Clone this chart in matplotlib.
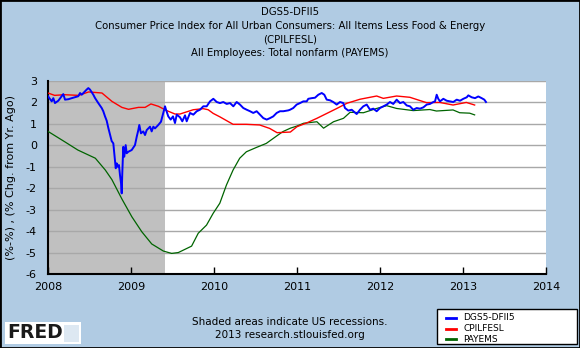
import numpy as np
import matplotlib
matplotlib.use("Agg")
import matplotlib.pyplot as plt
from matplotlib.patches import Rectangle

# DGS5-DFII5 (5y breakeven)
blue_t = [2008.0, 2008.045, 2008.064, 2008.084, 2008.124, 2008.165, 2008.184, 2008.205,
          2008.245, 2008.286, 2008.365, 2008.386, 2008.406, 2008.446, 2008.466, 2008.486,
          2008.506, 2008.546, 2008.566, 2008.606, 2008.647, 2008.666, 2008.687, 2008.707,
          2008.727, 2008.747, 2008.767, 2008.787, 2008.799, 2008.816, 2008.828, 2008.84,
          2008.855, 2008.867, 2008.88, 2008.888, 2008.895, 2008.907, 2008.919, 2008.936,
          2008.948, 2008.967, 2009.008, 2009.048, 2009.069, 2009.088, 2009.1, 2009.12,
          2009.148, 2009.169, 2009.189, 2009.229, 2009.249, 2009.269, 2009.289, 2009.329,
          2009.361, 2009.385, 2009.41, 2009.422, 2009.449, 2009.478, 2009.506, 2009.53,
          2009.551, 2009.59, 2009.618, 2009.651, 2009.671, 2009.711, 2009.751, 2009.792,
          2009.831, 2009.871, 2009.912, 2009.952, 2009.992, 2010.033, 2010.072, 2010.112,
          2010.153, 2010.193, 2010.233, 2010.273, 2010.313, 2010.353, 2010.394, 2010.434,
          2010.473, 2010.514, 2010.554, 2010.594, 2010.635, 2010.675, 2010.714, 2010.755,
          2010.795, 2010.835, 2010.895, 2010.916, 2010.955, 2010.996, 2011.036, 2011.076,
          2011.117, 2011.136, 2011.177, 2011.217, 2011.257, 2011.298, 2011.329, 2011.358,
          2011.398, 2011.437, 2011.478, 2011.518, 2011.558, 2011.578, 2011.618, 2011.659,
          2011.719, 2011.759, 2011.799, 2011.84, 2011.88, 2011.919, 2011.96, 2012.0,
          2012.04, 2012.081, 2012.12, 2012.16, 2012.201, 2012.241, 2012.281, 2012.322,
          2012.361, 2012.401, 2012.442, 2012.482, 2012.522, 2012.563, 2012.602, 2012.642,
          2012.663, 2012.683, 2012.702, 2012.723, 2012.763, 2012.804, 2012.843, 2012.883,
          2012.924, 2012.964, 2013.004, 2013.045, 2013.064, 2013.105, 2013.145, 2013.184,
          2013.225, 2013.257, 2013.277]
blue_v = [2.29, 2.05, 2.2, 1.97, 2.08, 2.29, 2.39, 2.13,
          2.15, 2.2, 2.29, 2.44, 2.36, 2.52, 2.6, 2.67,
          2.6, 2.36, 2.21, 1.97, 1.74, 1.59, 1.35, 1.15,
          0.81, 0.5, 0.2, 0.09, -0.37, -1.07, -0.84, -1.0,
          -0.92, -1.38, -1.77, -2.24, -1.3, -0.07, -0.53, 0.01,
          -0.37, -0.3, -0.22, 0.01, 0.4, 0.71, 0.95, 0.56,
          0.65, 0.48, 0.71, 0.87, 0.65, 0.87, 0.79, 0.95,
          1.1, 1.45, 1.82, 1.66, 1.35, 1.2, 1.35, 1.04,
          1.43, 1.31, 1.12, 1.4, 1.12, 1.51, 1.43, 1.59,
          1.66, 1.82, 1.82, 2.05, 2.17, 2.02, 1.97, 2.02,
          1.93, 1.97, 1.82, 2.02, 1.9, 1.74, 1.66, 1.59,
          1.51, 1.59, 1.43, 1.27, 1.2, 1.27, 1.35, 1.51,
          1.59, 1.59, 1.63, 1.66, 1.74, 1.9, 1.97, 2.05,
          2.05, 2.17, 2.2, 2.22, 2.36, 2.44, 2.36, 2.13,
          2.1, 2.02, 1.9, 2.02, 1.97, 1.74, 1.62, 1.66,
          1.46, 1.66, 1.82, 1.9, 1.66, 1.71, 1.59, 1.74,
          1.82, 1.9, 2.02, 1.93, 2.13, 1.97, 2.02, 1.86,
          1.82, 1.66, 1.74, 1.71, 1.77, 1.9, 1.93, 2.02,
          2.05, 2.36, 2.17, 2.05, 2.17, 2.08, 2.05, 2.02,
          2.13, 2.08, 2.17, 2.24, 2.33, 2.24, 2.2, 2.28,
          2.2, 2.13, 2.02]

# CPILFESL, % chg from yr ago
red_t = [2008.0, 2008.08, 2008.2, 2008.37, 2008.49, 2008.65, 2008.77, 2008.89, 2008.97,
         2009.09, 2009.17, 2009.24, 2009.33, 2009.43, 2009.53, 2009.59, 2009.75, 2009.87,
         2009.93, 2009.99, 2010.07, 2010.23, 2010.39, 2010.55, 2010.67, 2010.76, 2010.92,
         2011.0, 2011.12, 2011.24, 2011.36, 2011.48, 2011.6, 2011.76, 2011.96, 2012.04,
         2012.2, 2012.36, 2012.56, 2012.72, 2012.88, 2013.04, 2013.14]
red_v = [2.44, 2.33, 2.36, 2.33, 2.49, 2.44, 2.05, 1.77, 1.68,
         1.77, 1.77, 1.93, 1.82, 1.62, 1.46, 1.46, 1.66, 1.71,
         1.66, 1.49, 1.33, 0.98, 0.98, 0.95, 0.79, 0.59, 0.62,
         0.87, 1.05, 1.26, 1.49, 1.72, 1.96, 2.15, 2.3, 2.19,
         2.3, 2.24, 1.99, 2.0, 1.88, 2.0, 1.88]

# PAYEMS, % chg from yr ago
green_t = [2008.0, 2008.2, 2008.36, 2008.57, 2008.69, 2008.77, 2008.89, 2009.01, 2009.13,
           2009.25, 2009.39, 2009.49, 2009.57, 2009.73, 2009.81, 2009.91, 2009.99, 2010.07,
           2010.15, 2010.23, 2010.31, 2010.39, 2010.51, 2010.63, 2010.76, 2010.83, 2010.92,
           2011.0, 2011.08, 2011.24, 2011.32, 2011.44, 2011.56, 2011.64, 2011.8, 2011.96,
           2012.08, 2012.2, 2012.4, 2012.6, 2012.68, 2012.88, 2012.96, 2013.08, 2013.14]
green_v = [0.65, 0.17, -0.22, -0.6, -1.15, -1.6, -2.5, -3.33, -4.03,
           -4.6, -4.93, -5.04, -5.0, -4.7, -4.1, -3.72, -3.17, -2.7,
           -1.85, -1.15, -0.6, -0.3, -0.1, 0.09, 0.45, 0.64, 0.8,
           0.9, 1.03, 1.1, 0.8, 1.1, 1.26, 1.54, 1.52, 1.72,
           1.85, 1.72, 1.62, 1.67, 1.6, 1.65, 1.52, 1.5, 1.42]

recession = (2008.0, 2009.41)
years = [2008, 2009, 2010, 2011, 2012, 2013, 2014]
yticks = [3, 2, 1, 0, -1, -2, -3, -4, -5, -6]

bg = "#b0cbe3"
fig = plt.figure(figsize=(5.8, 3.48), dpi=100, facecolor=bg)
ax = fig.add_axes([48/580, 1 - 274/348, 498/580, 193/348])
ax.set_facecolor("white")

ax.axvspan(recession[0], recession[1], color="#c0c0c0", lw=0, zorder=0)
for y in yticks:
    ax.axhline(y, color="#a8a8a8", lw=1, zorder=1)

ax.plot(green_t, green_v, color="#006400", lw=0.9, zorder=3)
ax.plot(red_t, red_v, color="#ff0000", lw=1.0, zorder=4)
ax.plot(blue_t, blue_v, color="#0000ff", lw=1.4, zorder=5)

ax.set_xlim(2008, 2014)
ax.set_ylim(-6, 3)
ax.set_xticks(years)
ax.set_xticklabels([str(y) for y in years], fontsize=8)
ax.set_yticks(yticks)
ax.set_yticklabels([str(y) for y in yticks], fontsize=8)
ax.tick_params(axis="x", direction="in", length=5, width=1, pad=6)
ax.tick_params(axis="y", length=0, pad=8)
for s in ["top", "right"]:
    ax.spines[s].set_visible(False)
for s in ["left", "bottom"]:
    ax.spines[s].set_linewidth(1.5)
ax.set_ylabel("(%-%) , (% Chg. from Yr. Ago)", fontsize=8, labelpad=7)

titles = ["DGS5-DFII5",
          "Consumer Price Index for All Urban Consumers: All Items Less Food & Energy",
          "(CPILFESL)",
          "All Employees: Total nonfarm (PAYEMS)"]
for i, t in enumerate(titles):
    fig.text(0.5, 1 - (12 + 13.7 * i) / 348, t, ha="center", va="center", fontsize=7.3)

fig.text(0.5, 1 - 322/348, "Shaded areas indicate US recessions.", ha="center", va="center", fontsize=7.5)
fig.text(0.5, 1 - 335/348, "2013 research.stlouisfed.org", ha="center", va="center", fontsize=7.5)

# FRED logo
fig.patches.append(Rectangle((5/580, 1 - 344/348), 76/580, 22/348, transform=fig.transFigure,
                             facecolor="white", edgecolor="none"))
fig.text(7/580, 1 - 333/348, "FRED", fontsize=13.5, fontweight="bold", va="center", ha="left",
         color="#1a1a1a")
fig.patches.append(Rectangle((64/580, 1 - 342/348), 15/580, 17/348, transform=fig.transFigure,
                             facecolor="#dde8f2", edgecolor="none"))

# legend box
labels = ["DGS5-DFII5", "CPILFESL", "PAYEMS"]
colors = ["#0000ff", "#ff0000", "#006400"]
fig.patches.append(Rectangle((437/580, 1 - 344/348), 140/580, 35/348, transform=fig.transFigure,
                             facecolor="white", edgecolor="black", lw=1))
for i, (lab, c) in enumerate(zip(labels, colors)):
    yy = 1 - (318 + 10.5 * i) / 348
    fig.lines.append(plt.Line2D([446/580, 456/580], [yy, yy], transform=fig.transFigure,
                                color=c, lw=2))
    fig.text(463/580, yy, lab, fontsize=6.5, va="center", ha="left")

fig.patches.append(Rectangle((0, 0), 1, 1, transform=fig.transFigure, fill=False,
                             edgecolor="black", lw=2))

fig.savefig("out.png", dpi=100, facecolor=bg)
